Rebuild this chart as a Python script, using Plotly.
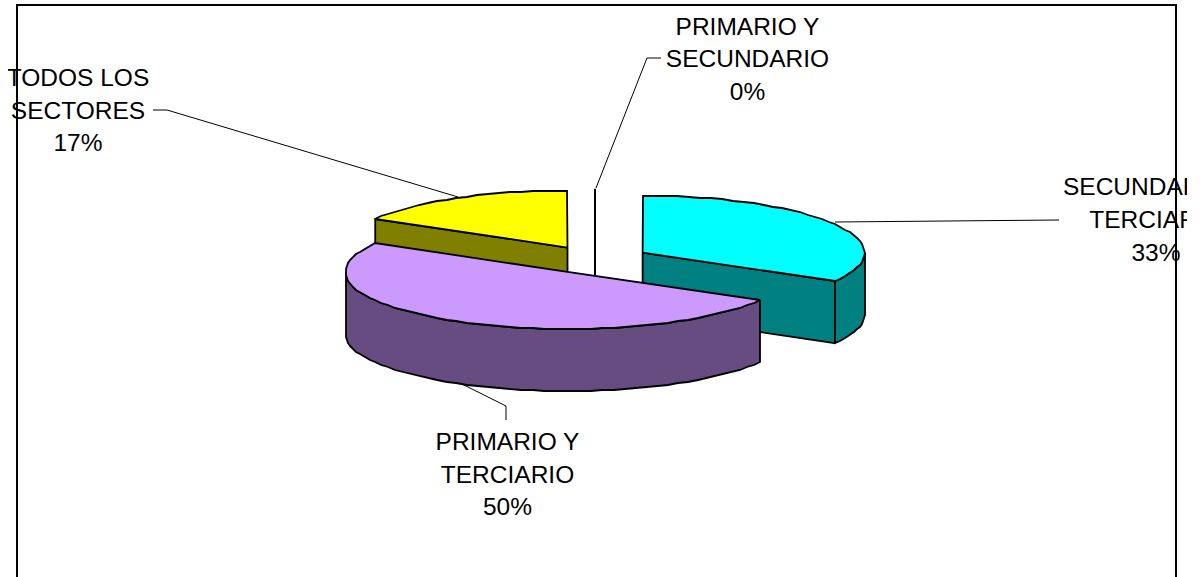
import numpy as np
import plotly.graph_objects as go

# ---- data ----
label_lines = [
    ["SECUNDARIO Y", "TERCIARIO"],
    ["PRIMARIO Y", "TERCIARIO"],
    ["TODOS LOS", "SECTORES"],
    ["PRIMARIO Y", "SECUNDARIO"],
]
counts = [2, 3, 1, 0]

# ---- styles ----
top_colors = ["#00FFFF", "#CC99FF", "#FFFF00", "#FFFFFF"]
side_colors = ["#008080", "#664C80", "#808000", "#FFFFFF"]
draw_order = [2, 3, 0, 1]
label_x = [1156, 507.5, 78, 747.5]
label_y = [[189, 222, 255], [444, 477, 509], [80, 113, 145], [29, 61, 94]]
leaders = [
    ([1059, 835], [220, 222]),
    ([506, 506, 460], [420, 406, 383]),
    ([153, 167, 458], [110, 110, 197]),
    ([661, 647, 596], [58, 58, 188]),
]

# ---- projected pie geometry (screen units) ----
CX, CY, RX, RY, DEPTH, EXPLODE = 595, 259.75, 222, 57, 62, 55
STEP = 3

shares = np.array(counts, dtype=float) / sum(counts)
ends = np.cumsum(shares) * 360
starts = ends - shares * 360


def rim(a0, a1, cx, cy, dz=0.0):
    n = max(int(abs(a1 - a0) / STEP), 1) + 1
    t = np.radians(np.linspace(a0, a1, n))
    x = cx + RX * np.sin(t)
    y = cy - RY * np.cos(t) + dz
    if n > 2:
        x, y = np.round(x), np.round(y)
    return x, y


def poly(fig, x, y, color):
    x = np.r_[x, x[0]]
    y = np.r_[y, y[0]]
    fig.add_trace(go.Scatter(x=x, y=y, mode="lines", fill="toself", fillcolor=color,
                             line=dict(color="black", width=1.8), hoverinfo="skip",
                             showlegend=False))


fig = go.Figure()

for i in draw_order:
    a0, a1 = starts[i], ends[i]
    mid = np.radians((a0 + a1) / 2)
    cx = CX + EXPLODE * np.sin(mid)
    cy = CY - EXPLODE * RY / RX * np.cos(mid)
    if counts[i] == 0:
        fig.add_trace(go.Scatter(x=[cx, cx], y=[cy - RY, cy + DEPTH], mode="lines",
                                 line=dict(color="black", width=2), hoverinfo="skip",
                                 showlegend=False))
        continue
    # cut faces visible from the viewer
    for a in (a0, a1):
        if 0 < a % 360 <= 180 and a == a1 or 180 < a % 360 < 360 and a == a0:
            ex, ey = rim(a, a, cx, cy)
            poly(fig, [cx, ex[0], ex[0], cx], [cy, ey[0], ey[0] + DEPTH, cy + DEPTH], side_colors[i])
    # outer wall on the front half of the rim
    w0, w1 = max(a0, 90), min(a1, 270)
    if w1 > w0:
        x0, y0 = rim(w0, w1, cx, cy)
        x1, y1 = rim(w1, w0, cx, cy, DEPTH)
        poly(fig, np.r_[x0, x1], np.r_[y0, y1], side_colors[i])
    # top surface
    xr, yr = rim(a0, a1, cx, cy)
    poly(fig, np.r_[cx, xr], np.r_[cy, yr], top_colors[i])

for lx, ly in leaders:
    fig.add_trace(go.Scatter(x=lx, y=ly, mode="lines", line=dict(color="black", width=1),
                             hoverinfo="skip", showlegend=False))

text_x, text_y, text_s = [], [], []
for i, lines in enumerate(label_lines):
    pct = f"{round(shares[i] * 100)}%"
    for s, yy in zip(lines + [pct], label_y[i]):
        text_x.append(label_x[i])
        text_y.append(yy)
        text_s.append(s)
fig.add_trace(go.Scatter(x=text_x, y=text_y, text=text_s, mode="text", textposition="middle center",
                         textfont=dict(family="Liberation Sans", size=24.5, color="black"),
                         hoverinfo="skip", showlegend=False, cliponaxis=True))

fig.add_shape(type="rect", x0=17, x1=1176, y0=5, y1=700, xref="x", yref="y",
              line=dict(color="black", width=2), layer="below")

fig.update_xaxes(range=[8, 1187], visible=False, fixedrange=True)
fig.update_yaxes(range=[577, 0], visible=False, fixedrange=True)
fig.update_layout(width=1201, height=577, margin=dict(l=8, r=14, t=0, b=0),
                  paper_bgcolor="white", plot_bgcolor="white", showlegend=False)

fig.write_html("out.html", config={"displayModeBar": False},
               post_script="document.body.style.margin='0';document.body.style.overflow='hidden';")
